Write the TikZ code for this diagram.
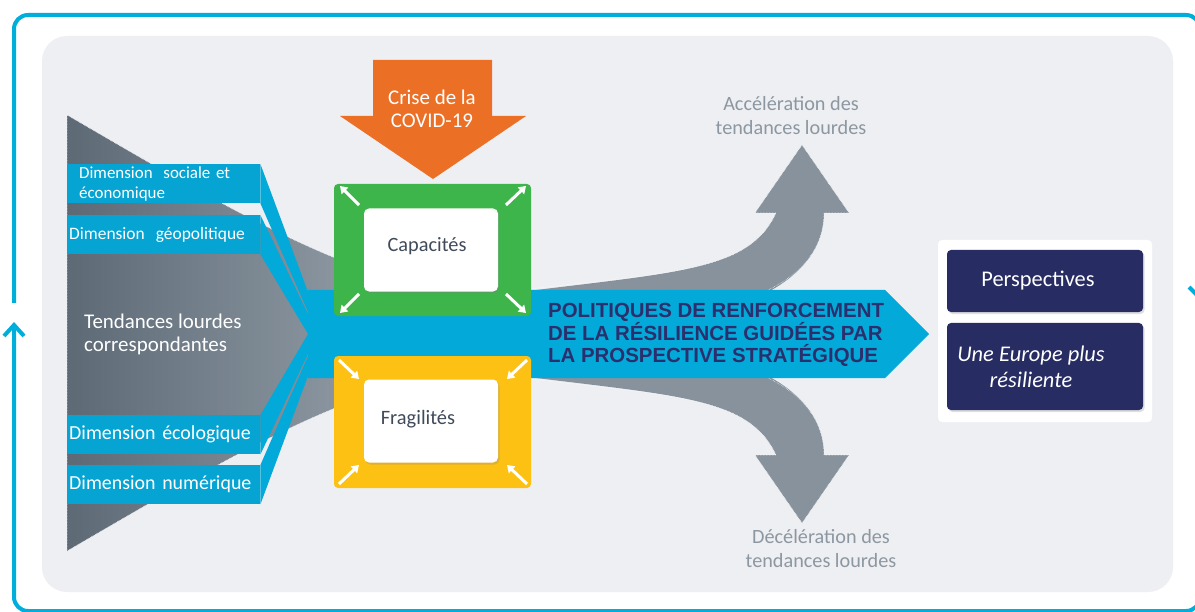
\documentclass[tikz,border=0pt]{standalone}
\usepackage{fontspec}
\setmainfont{Carlito}
\newfontfamily\arialfont{Liberation Sans}
\usetikzlibrary{arrows.meta,shadows}
\definecolor{frameblue}{HTML}{00AEDB}
\definecolor{bandblue}{HTML}{03A9D8}
\definecolor{dimblue}{HTML}{06A4D3}
\definecolor{panelbg}{HTML}{EEEFF3}
\definecolor{funnelL}{HTML}{5D6A76}
\definecolor{funnelR}{HTML}{8A959F}
\definecolor{grayarrow}{HTML}{87929C}
\definecolor{graytext}{HTML}{8C97A1}
\definecolor{covidorange}{HTML}{EC6F26}
\definecolor{capgreen}{HTML}{3DB54A}
\definecolor{fragyellow}{HTML}{FDC114}
\definecolor{navybox}{HTML}{272C63}
\definecolor{navytext}{HTML}{2B2F6D}
\definecolor{slatetext}{HTML}{404B5A}
\tikzset{
  dimbox/.style={fill=dimblue, text=white, anchor=north west, minimum height=39bp,
    inner ysep=0pt, inner xsep=2bp, text width=189bp, align=left,
    font=\fontsize{20}{22}\selectfont},
  whitebox/.style={fill=white, rounded corners=5bp, minimum width=134bp, minimum height=83bp,
    drop shadow={opacity=0.25, shadow xshift=1.5bp, shadow yshift=-2bp}},
  navy/.style={fill=navybox, rounded corners=4bp, minimum width=196bp, text=white,
    drop shadow={opacity=0.25, shadow xshift=1.5bp, shadow yshift=-2bp}},
  cornerarrow/.style={draw=white, line width=3bp, -{Triangle[width=9bp,length=7bp]}},
  grayedge/.style={draw=white, densely dotted, line width=0.5bp},
  graylabel/.style={text=graytext, align=center, font=\fontsize{20.3}{24}\selectfont},
}
\begin{document}
\begin{tikzpicture}[x=1bp,y=-1bp]
\useasboundingbox (0,0) rectangle (1195,612);
\fill[white] (0,0) rectangle (1195,612);
% outer frame
\begin{scope}
\clip (0,0) rectangle (1195,612);
\draw[frameblue, line width=4bp, rounded corners=14bp]
  (14,303) -- (14,15) -- (1200,15) -- (1200,611) -- (14,611) -- (14,324);
\draw[frameblue, line width=4bp] (4,336) -- (14,325) -- (24,336);
\draw[frameblue, line width=4bp] (1189,287) -- (1200,298) -- (1211,287);
\end{scope}
% inner panel
\fill[panelbg, rounded corners=25bp] (42,36) rectangle (1173,592);
% funnel
\shade[left color=funnelL, right color=funnelR]
  (67,115) .. controls (170,175) and (260,228) .. (340,260) -- (340,406)
  .. controls (260,438) and (170,491) .. (67,551) -- cycle;
\draw[grayedge] (340,260) .. controls (260,228) and (170,175) .. (67,115) -- (67,551)
  .. controls (170,491) and (260,438) .. (340,406);
% curved gray arrows
\fill[grayarrow] (520,292) .. controls (680,272) and (750,270) .. (776,213) -- (755,213)
  -- (802,145) -- (849,213) -- (824,213) .. controls (824,245) and (805,272) .. (768,292) -- cycle;
\draw[grayedge] (520,290) .. controls (680,272) and (750,270) .. (776,213) -- (755,213)
  -- (802,145) -- (849,213) -- (824,213) .. controls (824,245) and (805,272) .. (768,290);
\fill[grayarrow] (520,376) .. controls (680,396) and (750,398) .. (776,455) -- (755,455)
  -- (802,523) -- (849,455) -- (824,455) .. controls (824,423) and (805,396) .. (768,376) -- cycle;
\draw[grayedge] (520,378) .. controls (680,396) and (750,398) .. (776,455) -- (755,455)
  -- (802,523) -- (849,455) -- (824,455) .. controls (824,423) and (805,396) .. (768,378);
\node[graylabel] (accel) at (791,116) {Accélération des\\tendances lourdes};
\node[graylabel] (decel) at (821,549) {Décélération des\\tendances lourdes};
% dimension boxes
\node[dimbox, inner xsep=12bp, text width=169bp, font=\fontsize{17}{20}\selectfont] (soc) at (67,164) {Dimension\hspace{0.3em} sociale et\\économique};
\node[dimbox, font=\fontsize{17.5}{20}\selectfont] (geo) at (67,215) {Dimension\hspace{0.3em} géopolitique};
\node[dimbox] (eco) at (67,415) {Dimension écologique};
\node[dimbox] (num) at (67,465) {Dimension numérique};
% wedges
\fill[bandblue] (soc.north east) -- (308,292) -- (308,312) -- (soc.south east) -- cycle;
\fill[bandblue] (geo.north east) -- (308,314) -- (308,334) -- (geo.south east) -- cycle;
\fill[bandblue] (eco.north east) -- (308,334) -- (308,354) -- (eco.south east) -- cycle;
\fill[bandblue] (num.north east) -- (308,356) -- (308,376) -- (num.south east) -- cycle;
\node[text=white, anchor=west, inner sep=0pt, align=left, font=\fontsize{21}{23}\selectfont] (tend) at (84,334) {Tendances lourdes\\correspondantes};
% main band
\fill[bandblue] (308,290) -- (885,290) -- (929,334) -- (885,378) -- (308,378) -- cycle;
\node[anchor=west, align=left, inner sep=0pt, text=navytext, font=\arialfont\bfseries\fontsize{20.5}{22.5}\selectfont] (pol) at (548,335)
  {POLITIQUES DE RENFORCEMENT\\DE LA RÉSILIENCE GUIDÉES PAR\\LA PROSPECTIVE STRATÉGIQUE};
% covid arrow
\fill[covidorange] (373,60) -- (492,60) -- (492,116) -- (526,116) -- (433,179) -- (340,116) -- (373,116) -- cycle;
\node[text=white, align=center, font=\fontsize{21}{23}\selectfont] (covid) at (432,109) {Crise de la\\COVID-19};
% capacites
\fill[capgreen, rounded corners=4bp] (334,184) rectangle (531,316);
\node[whitebox] (capbox) at (431,250) {};
\node[text=slatetext, font=\fontsize{20.4}{22}\selectfont] (cap) at (427,246) {Capacités};
\draw[cornerarrow] (359,205) -- (340,186);
\draw[cornerarrow] (506,205) -- (526,186);
\draw[cornerarrow] (359,294) -- (340,313);
\draw[cornerarrow] (506,294) -- (526,313);
% fragilites
\fill[fragyellow, rounded corners=4bp] (334,356) rectangle (531,488);
\node[whitebox] (fragbox) at (431,421) {};
\node[text=slatetext, font=\fontsize{20.5}{22}\selectfont] (frag) at (418,419) {Fragilités};
\draw[cornerarrow] (339,360) -- (359,379);
\draw[cornerarrow] (527,360) -- (507,379);
\draw[cornerarrow] (339,484) -- (359,465);
\draw[cornerarrow] (527,484) -- (507,465);
% right panel
\fill[white, rounded corners=4bp] (938,240) rectangle (1152,422);
\node[navy, minimum height=62bp, font=\fontsize{22.5}{24}\selectfont] (persp) at (1045,281) {};
\node[text=white, font=\fontsize{22.5}{24}\selectfont] (persptext) at (1038,281) {Perspectives};
\node[navy, minimum height=87bp] (europe) at (1045,366.5) {};
\node[text=white, align=center, font=\itshape\fontsize{22.5}{26}\selectfont] (eurotext) at (1031,367) {Une Europe plus\\résiliente};
\end{tikzpicture}
\end{document}
